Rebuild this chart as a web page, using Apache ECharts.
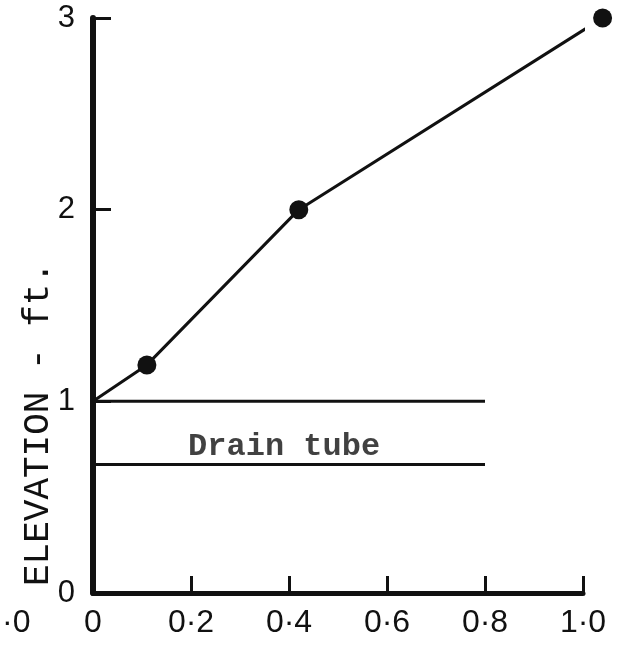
<!DOCTYPE html>
<html>
<head>
<meta charset="utf-8">
<script src="https://cdn.jsdelivr.net/npm/echarts@6/dist/echarts.min.js"></script>
<style>
  html, body { margin: 0; padding: 0; background: #fff; }
  #chart { width: 629px; height: 646px; }
</style>
</head>
<body>
<div id="chart"></div>
<script>
// elevation profile points (x = distance fraction, y = elevation ft)
const profileX = [0, 0.11, 0.42, 1.04]
const profileY = [1.0, 1.19, 2.0, 3.0]
const markedPoints = [1, 2, 3] // points drawn with a dot

// drain tube walls
const tubeStartX = 0
const tubeEndX = 0.8
const tubeTopY = 1.0
const tubeBottomY = 0.67
const tubeLabel = 'Drain tube'
const tubeLabelPos = [0.39, 0.76]

const xTickLabels = ['0', '0·2', '0·4', '0·6', '0·8', '1·0']
const yTickLabels = ['0', '1', '2', '3']
const yAxisTitle = 'ELEVATION - ft.'

const chart = echarts.init(document.getElementById('chart'))

const ink = '#111'
const mono = 'Liberation Mono'
const sans = 'Liberation Sans'

const profileData = profileX.map((x, i) => ({
  value: [x, profileY[i]],
  symbolSize: markedPoints.includes(i) ? 19 : 0
}))

chart.setOption({
  backgroundColor: '#fff',
  animation: false,
  grid: { left: 93, right: 46, top: 18, bottom: 53 },
  xAxis: {
    type: 'value',
    min: 0,
    max: 1,
    interval: 0.2,
    splitLine: { show: false },
    axisLine: { lineStyle: { color: ink, width: 5 } },
    axisTick: { inside: true, length: 17, lineStyle: { color: ink, width: 3 } },
    axisLabel: {
      color: ink,
      fontFamily: sans,
      fontSize: 32,
      margin: 14,
      formatter: v => xTickLabels[Math.round(v / 0.2)]
    }
  },
  yAxis: {
    type: 'value',
    min: 0,
    max: 3,
    interval: 1,
    splitLine: { show: false },
    axisLine: { lineStyle: { color: ink, width: 6 } },
    axisTick: { inside: true, length: 18, lineStyle: { color: ink, width: 3 } },
    axisLabel: {
      color: ink,
      fontFamily: sans,
      fontSize: 31,
      margin: 18,
      formatter: v => yTickLabels[Math.round(v)]
    }
  },
  series: [
    {
      type: 'line',
      clip: false,
      data: profileData,
      symbol: 'circle',
      lineStyle: { color: ink, width: 3 },
      itemStyle: { color: ink }
    },
    {
      type: 'line',
      symbol: 'none',
      data: [[tubeStartX, tubeTopY], [tubeEndX, tubeTopY]],
      lineStyle: { color: ink, width: 3 }
    },
    {
      type: 'line',
      symbol: 'none',
      data: [[tubeStartX, tubeBottomY], [tubeEndX, tubeBottomY]],
      lineStyle: { color: ink, width: 3 }
    },
    {
      type: 'scatter',
      symbolSize: 0,
      data: [{ value: tubeLabelPos, name: tubeLabel }],
      label: {
        show: true,
        position: 'inside',
        formatter: '{b}',
        color: ink,
        fontFamily: mono,
        fontWeight: 'bold',
        fontSize: 32
      }
    }
  ],
  graphic: [
    {
      type: 'text',
      rotation: Math.PI / 2,
      x: 38,
      y: 424,
      style: {
        text: yAxisTitle,
        fill: ink,
        fontFamily: mono,
        fontSize: 36,
        align: 'center',
        verticalAlign: 'middle'
      }
    },
    {
      type: 'text',
      x: 2,
      y: 623,
      style: {
        text: '·0',
        fill: ink,
        fontFamily: sans,
        fontSize: 32,
        verticalAlign: 'middle'
      }
    }
  ]
})
</script>
</body>
</html>
